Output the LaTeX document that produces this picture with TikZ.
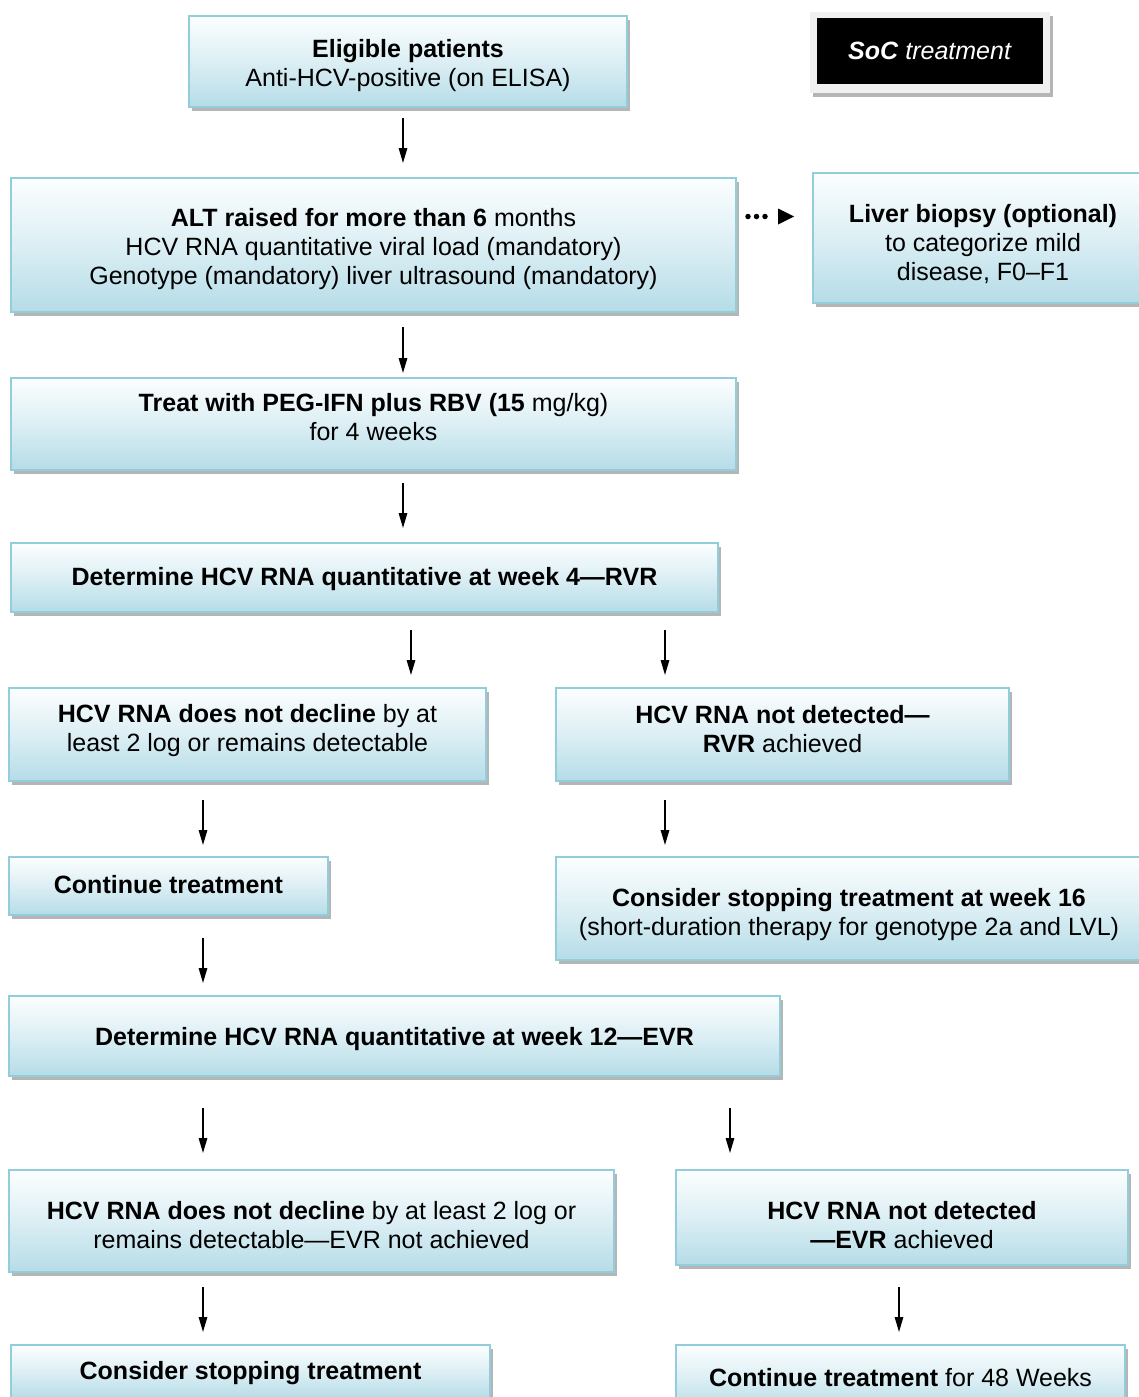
\documentclass[tikz,border=0pt]{standalone}
\usepackage{fontspec}
\setmainfont{Liberation Sans}
\usetikzlibrary{arrows.meta,shadows}
\definecolor{boxedge}{RGB}{146,205,220}
\definecolor{boxbot}{RGB}{181,220,231}
\definecolor{boxtop}{RGB}{252,254,255}
\definecolor{shadowgray}{RGB}{150,150,150}
\tikzset{
  fbox/.style={draw=boxedge, line width=2pt, top color=boxtop, bottom color=boxbot,
    middle color=boxbot!45!boxtop, inner sep=0pt,
    drop shadow={shadow xshift=3pt, shadow yshift=-4pt, fill=shadowgray, opacity=0.7}},
  txt/.style={align=center, inner sep=0pt, font=\fontsize{25}{29}\selectfont},
  arr/.style={line width=1.4pt, -{Triangle[width=8.5pt,length=15pt]}},
  dotarr/.style={line width=5.5pt, line cap=round,
    dash pattern=on 0pt off 8.5pt on 0pt off 8.5pt on 0pt off 30pt,
    -{Triangle[width=16pt,length=16pt,line width=0pt]}}
}
\begin{document}
\begin{tikzpicture}[x=1pt,y=-1pt]
\useasboundingbox (0,0) rectangle (1139,1397);
% SoC legend
\node[draw=none, fill=gray!12, minimum width=240pt, minimum height=81pt, inner sep=0pt,
  drop shadow={shadow xshift=3pt, shadow yshift=-4pt, fill=shadowgray, opacity=0.7}] (socframe) at (930,52.5) {};
\node[fill=black, minimum width=226pt, minimum height=66pt, inner sep=0pt, text=white,
  font=\fontsize{25}{29}\selectfont] (soc) at (930,51) {\textbf{\textit{SoC}} \textit{treatment}};
% boxes
\node[fbox, minimum width=438pt, minimum height=91pt] (elig) at (408,61.5) {};
\node[fbox, minimum width=725pt, minimum height=134pt] (alt) at (373.5,245) {};
\node[fbox, minimum width=340pt, minimum height=130pt] (liver) at (983,238) {};
\node[fbox, minimum width=725pt, minimum height=92pt] (treat) at (373.5,424) {};
\node[fbox, minimum width=707pt, minimum height=69pt] (det4) at (364.5,577.5) {};
\node[fbox, minimum width=477pt, minimum height=93pt] (nd1) at (247.5,734.5) {};
\node[fbox, minimum width=453pt, minimum height=93pt] (nt1) at (782.5,734.5) {};
\node[fbox, minimum width=319pt, minimum height=58pt] (cont) at (168.5,886) {};
\node[fbox, minimum width=586pt, minimum height=103pt] (stop16) at (849,908.5) {};
\node[fbox, minimum width=771pt, minimum height=80pt] (det12) at (394.5,1036) {};
\node[fbox, minimum width=605pt, minimum height=102pt] (nd2) at (311.5,1221) {};
\node[fbox, minimum width=452pt, minimum height=95pt] (nt2) at (902,1217.5) {};
\node[fbox, minimum width=479pt, minimum height=54pt] (stop) at (250.5,1372) {};
\node[fbox, minimum width=449pt, minimum height=66pt] (c48) at (900.5,1378) {};
% texts
\node[txt] (eligt) at ([yshift=-4pt]elig.center)
  {\textbf{Eligible patients}\\Anti-HCV-positive (on ELISA)};
\node[txt] (altt) at ([yshift=-4pt]alt.center)
  {\textbf{ALT raised for more than 6} months\\HCV RNA quantitative viral load (mandatory)\\Genotype (mandatory) liver ultrasound (mandatory)};
\node[txt] (livert) at ([yshift=-6pt]liver.center)
  {\textbf{Liver biopsy (optional)}\\to categorize mild\\disease, F0–F1};
\node[txt] (treatt) at ([yshift=7pt]treat.center)
  {\textbf{Treat with PEG-IFN plus RBV (15} mg/kg)\\for 4 weeks};
\node[txt] (det4t) at ([yshift=-2pt]det4.center)
  {\textbf{Determine HCV RNA quantitative at week 4—RVR}};
\node[txt] (nd1t) at ([yshift=4pt]nd1.center)
  {\textbf{HCV RNA does not decline} by at\\least 2 log or remains detectable};
\node[txt] (nt1t) at ([yshift=5.5pt]nt1.center)
  {\textbf{HCV RNA not detected—}\\\textbf{RVR} achieved};
\node[txt] (contt) at ([yshift=1pt]cont.center)
  {\textbf{Continue treatment}};
\node[txt] (stop16t) at ([yshift=-6.5pt]stop16.center)
  {\textbf{Consider stopping treatment at week 16}\\(short-duration therapy for genotype 2a and LVL)};
\node[txt] (det12t) at ([yshift=-3pt]det12.center)
  {\textbf{Determine HCV RNA quantitative at week 12—EVR}};
\node[txt] (nd2t) at ([yshift=-4pt]nd2.center)
  {\textbf{HCV RNA does not decline} by at least 2 log or\\remains detectable—EVR not achieved};
\node[txt] (nt2t) at ([yshift=-8pt]nt2.center)
  {\textbf{HCV RNA not detected}\\\textbf{—EVR} achieved};
\node[txt] (stopt) at ([yshift=-1pt]stop.center)
  {\textbf{Consider stopping treatment}};
\node[txt] (c48t) at (c48.center)
  {\textbf{Continue treatment} for 48 Weeks};
% arrow end points
\coordinate (a1s) at (403,118);  \coordinate (a1e) at (403,163);
\coordinate (a2s) at (403,327);  \coordinate (a2e) at (403,373);
\coordinate (a3s) at (403,483);  \coordinate (a3e) at (403,528);
\coordinate (a4s) at (411,630);  \coordinate (a4e) at (411,675);
\coordinate (a5s) at (665,630);  \coordinate (a5e) at (665,675);
\coordinate (a6s) at (203,800);  \coordinate (a6e) at (203,845);
\coordinate (a7s) at (665,800);  \coordinate (a7e) at (665,845);
\coordinate (a8s) at (203,938);  \coordinate (a8e) at (203,983);
\coordinate (a9s) at (203,1108); \coordinate (a9e) at (203,1153);
\coordinate (a10s) at (730,1108); \coordinate (a10e) at (730,1153);
\coordinate (a11s) at (203,1287); \coordinate (a11e) at (203,1332);
\coordinate (a12s) at (899,1287); \coordinate (a12e) at (899,1332);
\coordinate (dots) at (748,216.5); \coordinate (dote) at (794,216.5);
\draw[arr] (a1s) -- (a1e);
\draw[arr] (a2s) -- (a2e);
\draw[arr] (a3s) -- (a3e);
\draw[arr] (a4s) -- (a4e);
\draw[arr] (a5s) -- (a5e);
\draw[arr] (a6s) -- (a6e);
\draw[arr] (a7s) -- (a7e);
\draw[arr] (a8s) -- (a8e);
\draw[arr] (a9s) -- (a9e);
\draw[arr] (a10s) -- (a10e);
\draw[arr] (a11s) -- (a11e);
\draw[arr] (a12s) -- (a12e);
\draw[dotarr] (dots) -- (dote);
\end{tikzpicture}
\end{document}
